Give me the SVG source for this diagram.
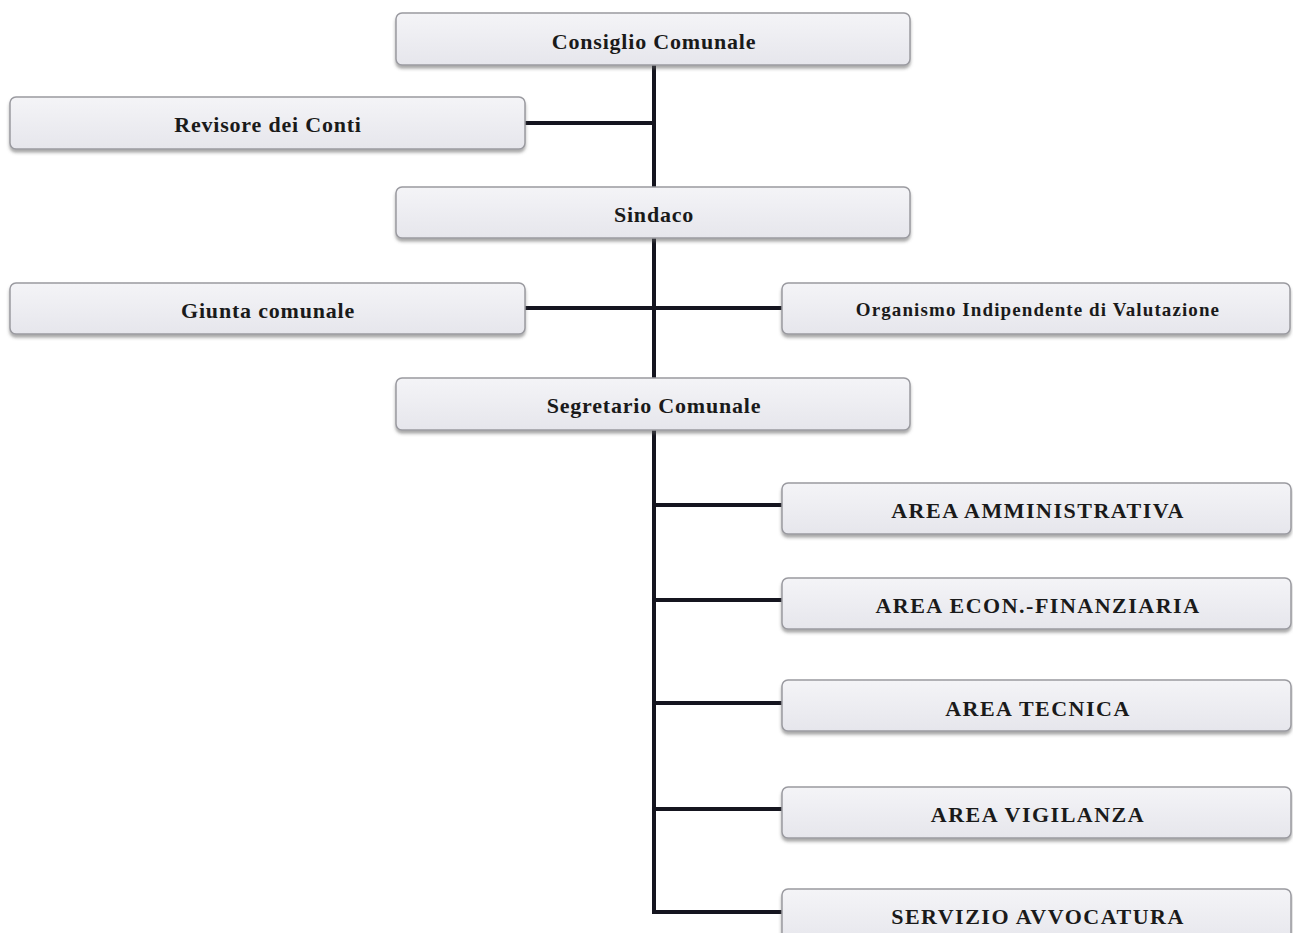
<svg xmlns="http://www.w3.org/2000/svg" width="1293" height="933" viewBox="0 0 1293 933">
<defs>
<linearGradient id="g" x1="0" y1="0" x2="0" y2="1">
<stop offset="0" stop-color="#f4f4f7"/>
<stop offset="1" stop-color="#e6e6ec"/>
</linearGradient>
<filter id="sh" x="-5%" y="-20%" width="110%" height="160%">
<feDropShadow dx="0" dy="3" stdDeviation="1.5" flood-color="#555" flood-opacity="0.5"/>
</filter>
</defs>
<style>
.box{fill:url(#g);stroke:#9a9aa0;stroke-width:1.5;filter:url(#sh)}
.t{font-family:"Liberation Serif","Times New Roman",serif;font-weight:bold;font-size:22px;letter-spacing:0.8px;fill:#1a1a1a;text-anchor:middle}
.s{font-size:19px;letter-spacing:1.1px}
.u{letter-spacing:1.5px}
.c{stroke:#15151f;stroke-width:4;fill:none}
</style>
<rect width="1293" height="933" fill="#ffffff"/>
<g id="connectors">
<line class="c" x1="654" y1="64" x2="654" y2="914"/>
<line class="c" x1="524" y1="123" x2="654" y2="123"/>
<line class="c" x1="524" y1="308" x2="783" y2="308"/>
<line class="c" x1="652" y1="505" x2="783" y2="505"/>
<line class="c" x1="652" y1="600" x2="783" y2="600"/>
<line class="c" x1="652" y1="703" x2="783" y2="703"/>
<line class="c" x1="652" y1="809" x2="783" y2="809"/>
<line class="c" x1="652" y1="912" x2="783" y2="912"/>
</g>
<g id="consiglio"><rect class="box" x="396" y="13" width="514" height="52" rx="6"/><text class="t" x="654" y="49">Consiglio Comunale</text></g>
<g id="revisore"><rect class="box" x="10" y="97" width="515" height="52" rx="6"/><text class="t" x="268" y="132">Revisore dei Conti</text></g>
<g id="sindaco"><rect class="box" x="396" y="187" width="514" height="51" rx="6"/><text class="t" x="654" y="222">Sindaco</text></g>
<g id="giunta"><rect class="box" x="10" y="283" width="515" height="51" rx="6"/><text class="t" x="268" y="318">Giunta comunale</text></g>
<g id="oiv"><rect class="box" x="782" y="283" width="508" height="51" rx="6"/><text class="t s" x="1038" y="316">Organismo Indipendente di Valutazione</text></g>
<g id="segretario"><rect class="box" x="396" y="378" width="514" height="52" rx="6"/><text class="t" x="654" y="413">Segretario Comunale</text></g>
<g id="amministrativa"><rect class="box" x="782" y="483" width="509" height="51" rx="6"/><text class="t u" x="1038" y="518">AREA AMMINISTRATIVA</text></g>
<g id="finanziaria"><rect class="box" x="782" y="578" width="509" height="51" rx="6"/><text class="t u" x="1038" y="613">AREA ECON.-FINANZIARIA</text></g>
<g id="tecnica"><rect class="box" x="782" y="680" width="509" height="51" rx="6"/><text class="t u" x="1038" y="716">AREA TECNICA</text></g>
<g id="vigilanza"><rect class="box" x="782" y="787" width="509" height="51" rx="6"/><text class="t u" x="1038" y="822">AREA VIGILANZA</text></g>
<g id="avvocatura"><rect class="box" x="782" y="889" width="509" height="56" rx="6"/><text class="t u" x="1038" y="924">SERVIZIO AVVOCATURA</text></g>
</svg>
